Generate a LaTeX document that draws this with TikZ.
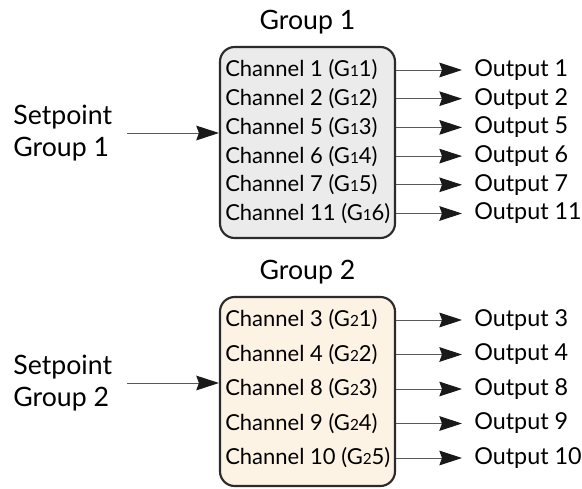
\documentclass[tikz,border=0pt]{standalone}
\usepackage{fontspec}
\setmainfont{Lato}
\usetikzlibrary{positioning,arrows.meta}

\definecolor{boxgray}{HTML}{EBEBEB}
\definecolor{boxcream}{HTML}{FDF3E4}
\definecolor{edgedark}{HTML}{2B2B2B}

% small group digit inside the channel label
\newcommand{\gdig}[1]{{\fontsize{11.5}{11.5}\selectfont #1}}

\begin{document}
\begin{tikzpicture}[x=0.75pt,y=-0.75pt,
  grpbox/.style={draw=edgedark,line width=1.6pt,rounded corners=11pt,
                 minimum width=131.25pt,inner sep=0pt},
  chan/.style={anchor=west,inner sep=0pt,font=\fontsize{16.5}{16.5}\selectfont},
  outp/.style={anchor=west,inner xsep=9pt,inner ysep=0pt,font=\fontsize{17.5}{17.5}\selectfont},
  setp/.style={anchor=east,align=left,inner xsep=11pt,font=\fontsize{20}{24}\selectfont},
  grptitle/.style={font=\fontsize{20}{20}\selectfont},
  arr/.style={-{Stealth[length=17pt,width=11pt,inset=2pt,color=black!90]},
              line width=0.7pt,black!65}
]
  \useasboundingbox (0,0) rectangle (582,489);

  % ---------- Group 1 ----------
  \node[grpbox,fill=boxgray,minimum height=143.25pt] (g1box) at (307.5,142.5) {};
  \node[grptitle,above=5pt of g1box] (g1title) {Group 1};
  \foreach \ch/\g [count=\i from 0] in {1/1,2/2,5/3,6/4,7/5,11/6} {
    \node[chan] (ch1-\i) at (225,{70+28.7*\i}) {Channel \ch\ (G\gdig{1}\g)};
    \node[outp] (out1-\i) at (462,{70+28.7*\i}) {Output \ch};
    \draw[arr] (g1box.east |- ch1-\i) -- (out1-\i.west);
  }
  \node[setp] (sp1) at (127,133) {Setpoint\\Group 1};
  \draw[arr] (sp1.east) -- (sp1.east -| g1box.west);

  % ---------- Group 2 ----------
  \node[grpbox,fill=boxcream,minimum height=141.75pt] (g2box) at (307.5,391.5) {};
  \node[grptitle,above=5pt of g2box] (g2title) {Group 2};
  \foreach \ch/\g [count=\i from 0] in {3/1,4/2,8/3,9/4,10/5} {
    \node[chan] (ch2-\i) at (225,{320+34.5*\i}) {Channel \ch\ (G\gdig{2}\g)};
    \node[outp] (out2-\i) at (462,{320+34.5*\i}) {Output \ch};
    \draw[arr] (g2box.east |- ch2-\i) -- (out2-\i.west);
  }
  \node[setp] (sp2) at (127,383) {Setpoint\\Group 2};
  \draw[arr] (sp2.east) -- (sp2.east -| g2box.west);
\end{tikzpicture}
\end{document}
